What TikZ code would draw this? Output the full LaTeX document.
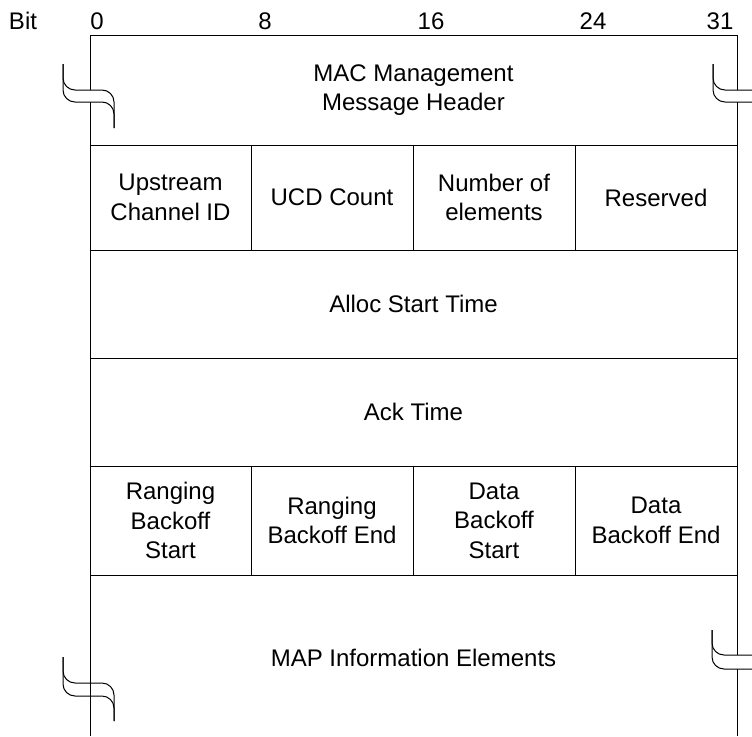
\documentclass[tikz,border=0pt]{standalone}
\usepackage{fontspec}
\setmainfont{Liberation Sans}
\begin{document}
\begin{tikzpicture}[x=1pt,y=-1pt,
  every node/.style={inner sep=0pt,outer sep=0pt,font=\fontsize{24}{29.5}\selectfont},
  cell/.style={align=center},
  grid/.style={line width=1pt,black},
  brk/.style={line width=1pt,black,rounded corners=12pt}]
\useasboundingbox (0,0) rectangle (752,736);
% bit labels
\node[anchor=base west] (bit) at (9,29) {Bit};
\node[anchor=base] (b0) at (97,29) {0};
\node[anchor=base] (b8) at (265,29) {8};
\node[anchor=base] (b16) at (431,29) {16};
\node[anchor=base] (b24) at (593,29) {24};
\node[anchor=base] (b31) at (720,29) {31};
% outer frame
\draw[grid] (90,736) -- (90,683);
\draw[grid] (90,696) -- (90,102);
\draw[grid] (90,90) -- (90,35) -- (737,35) -- (737,90);
\draw[grid] (737,102) -- (737,655);
\draw[grid] (737,669) -- (737,736);
% row separators
\foreach \y in {145,250,358,466,575} \draw[grid] (90,\y) -- (737,\y);
% column separators
\foreach \x in {251,413,575} {
  \draw[grid] (\x,145) -- (\x,250);
  \draw[grid] (\x,466) -- (\x,575);
}
% break symbols
\draw[brk] (63,64) -- (63,90) -- (114,90) -- (114,128);
\draw[brk] (63,64) -- (63,102) -- (114,102) -- (114,128);
\draw[brk] (713,64) -- (713,90) -- (752,90);
\draw[brk] (713,64) -- (713,102) -- (752,102);
\draw[brk] (63,657) -- (63,683) -- (114,683) -- (114,721);
\draw[brk] (63,657) -- (63,696) -- (114,696) -- (114,721);
\draw[brk] (712,630) -- (712,655) -- (752,655);
\draw[brk] (712,630) -- (712,669) -- (752,669);
% cell texts
\node[cell] (hdr) at (413.5,90) {MAC Management\\Message Header};
\node[cell] (usid) at (170.5,197.5) {Upstream\\Channel ID};
\node[cell] (ucd) at (332,197.5) {UCD Count};
\node[cell] (num) at (494,197.5) {Number of\\elements};
\node[cell] (res) at (656,197.5) {Reserved};
\node[cell] (alloc) at (413.5,304) {Alloc Start Time};
\node[cell] (ack) at (413.5,412) {Ack Time};
\node[cell] (rbs) at (170.5,520.5) {Ranging\\Backoff\\Start};
\node[cell] (rbe) at (332,520.5) {Ranging\\Backoff End};
\node[cell] (dbs) at (494,520.5) {Data\\Backoff\\Start};
\node[cell] (dbe) at (656,520.5) {Data\\Backoff End};
\node[cell] (map) at (413.5,658) {MAP Information Elements};
\end{tikzpicture}
\end{document}
